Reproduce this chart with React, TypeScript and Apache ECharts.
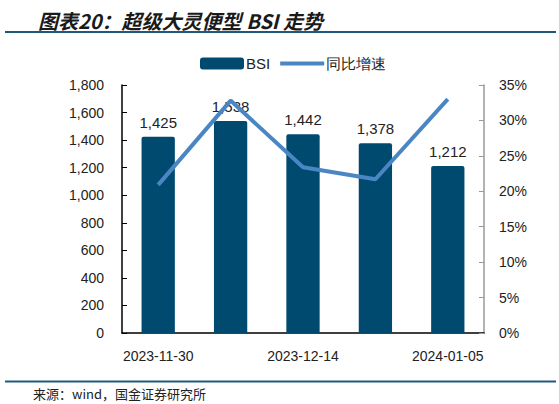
import { useEffect, useRef } from 'react';
import * as echarts from 'echarts';

const categories = ['2023-11-30', '2023-12-07', '2023-12-14', '2023-12-22', '2024-01-05'];
const bsiValues = [1425, 1538, 1442, 1378, 1212];
const yoyValues = [20.9, 32.8, 23.4, 21.7, 33.0];

const BAR_COLOR = '#004a70';
const LINE_COLOR = '#4a86c4';

export default function App() {
  const chartRef = useRef<HTMLDivElement>(null);

  useEffect(() => {
    document.body.style.margin = '0';
    if (!chartRef.current) return;
    const chart = echarts.init(chartRef.current, null, { renderer: 'svg' });

    chart.setOption({
      animation: false,
      textStyle: { fontFamily: 'Liberation Sans, Arial, sans-serif' },
      title: {
        text: '图表20：超级大灵便型 BSI 走势',
        left: 33,
        top: 5,
        textStyle: {
          fontFamily: 'Noto Sans CJK SC',
          fontSize: 20,
          fontWeight: 'bold',
          fontStyle: 'italic',
          color: '#1a1a1a',
        },
      },
      graphic: [
        {
          type: 'line',
          shape: { x1: 5, y1: 32, x2: 556, y2: 32 },
          style: { stroke: '#1f5a7a', lineWidth: 2 },
        },
        {
          type: 'line',
          shape: { x1: 5, y1: 381.5, x2: 556, y2: 381.5 },
          style: { stroke: '#1f5a7a', lineWidth: 2 },
        },
        {
          type: 'text',
          left: 33,
          top: 386,
          style: {
            text: '来源：wind，国金证券研究所',
            fontFamily: 'Noto Sans CJK SC',
            fontSize: 13,
            lineHeight: 14,
            fill: '#222',
          },
        },
      ],
      legend: {
        left: 195,
        top: 51,
        itemWidth: 44,
        itemHeight: 12,
        itemGap: 10,
        textStyle: { fontSize: 15, color: '#222', padding: [0, 0, 0, -3] },
        data: [
          { name: 'BSI', icon: 'roundRect' },
          { name: '同比增速', icon: 'path://M0,0L44,0L44,4L0,4Z' },
        ],
      },
      grid: { left: 122, right: 75, top: 85, bottom: 71 },
      xAxis: {
        type: 'category',
        data: categories,
        boundaryGap: true,
        axisLine: { lineStyle: { color: '#000', width: 1.5 } },
        axisTick: { inside: true, length: 5, lineStyle: { color: '#000' } },
        axisLabel: { interval: 1, fontSize: 14, color: '#222', margin: 16 },
      },
      yAxis: [
        {
          type: 'value',
          min: 0,
          max: 1800,
          interval: 200,
          axisLine: { show: true, lineStyle: { color: '#000', width: 1.5 } },
          axisTick: { show: true, inside: true, length: 5, lineStyle: { color: '#000' } },
          splitLine: { show: false },
          axisLabel: {
            fontSize: 14,
            color: '#222',
            margin: 18,
            formatter: (v: number) => v.toLocaleString('en-US'),
          },
        },
        {
          type: 'value',
          min: 0,
          max: 35,
          interval: 5,
          position: 'right',
          axisLine: { show: true, lineStyle: { color: '#999', width: 1.5 } },
          axisTick: { show: true, inside: true, length: 5, lineStyle: { color: '#999' } },
          splitLine: { show: false },
          axisLabel: { fontSize: 14, color: '#222', margin: 15, formatter: '{value}%' },
        },
      ],
      series: [
        {
          name: 'BSI',
          type: 'bar',
          data: bsiValues,
          barWidth: '46%',
          z: 2,
          itemStyle: { color: BAR_COLOR, borderRadius: [2, 2, 0, 0] },
          label: {
            show: true,
            position: 'top',
            distance: 7,
            fontSize: 15,
            color: '#222',
            formatter: (p: any) => Number(p.value).toLocaleString('en-US'),
          },
        },
        {
          name: '同比增速',
          type: 'line',
          yAxisIndex: 1,
          data: yoyValues,
          z: 5,
          symbol: 'none',
          lineStyle: { color: LINE_COLOR, width: 4 },
          itemStyle: { color: LINE_COLOR },
        },
      ],
    });

    return () => {
      chart.dispose();
    };
  }, []);

  return <div ref={chartRef} style={{ width: 559, height: 404 }} />;
}
